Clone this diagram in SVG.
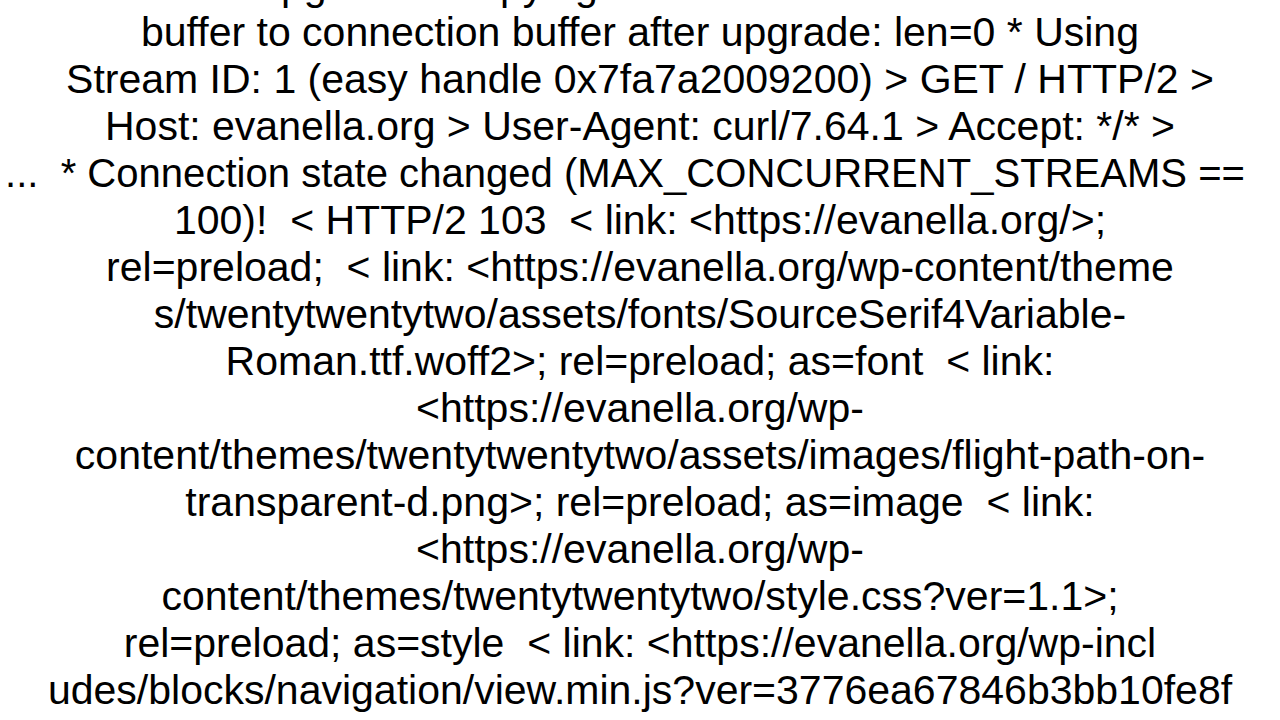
<svg xmlns="http://www.w3.org/2000/svg" width="1280" height="720" viewBox="0 0 1280 720">
<style>text{font-family:"Liberation Sans",Arial,sans-serif;font-size:41px;fill:#000;text-anchor:middle;white-space:pre}</style>
<rect width="1280" height="720" fill="#fff"/>
<g id="log">
<text x="640" y="0">upgrade * Copying HTTP/2 data in stream</text>
<text x="640" y="46">buffer to connection buffer after upgrade: len=0 * Using</text>
<text x="640" y="93">Stream ID: 1 (easy handle 0x7fa7a2009200) &gt; GET / HTTP/2 &gt;</text>
<text x="640" y="140">Host: evanella.org &gt; User-Agent: curl/7.64.1 &gt; Accept: */* &gt;</text>
<text x="5" y="187" style="text-anchor:start" textLength="1240" lengthAdjust="spacingAndGlyphs">...  * Connection state changed (MAX_CONCURRENT_STREAMS ==</text>
<text x="640" y="234">100)!  &lt; HTTP/2 103  &lt; link: &lt;https://evanella.org/&gt;;</text>
<text x="640" y="281">rel=preload;  &lt; link: &lt;https://evanella.org/wp-content/theme</text>
<text x="640" y="328">s/twentytwentytwo/assets/fonts/SourceSerif4Variable-</text>
<text x="640" y="375">Roman.ttf.woff2&gt;; rel=preload; as=font  &lt; link:</text>
<text x="640" y="422">&lt;https://evanella.org/wp-</text>
<text x="640" y="469">content/themes/twentytwentytwo/assets/images/flight-path-on-</text>
<text x="640" y="516">transparent-d.png&gt;; rel=preload; as=image  &lt; link:</text>
<text x="640" y="563">&lt;https://evanella.org/wp-</text>
<text x="640" y="610">content/themes/twentytwentytwo/style.css?ver=1.1&gt;;</text>
<text x="640" y="657">rel=preload; as=style  &lt; link: &lt;https://evanella.org/wp-incl</text>
<text x="640" y="704">udes/blocks/navigation/view.min.js?ver=3776ea67846b3bb10fe8f</text>
</g>
</svg>
